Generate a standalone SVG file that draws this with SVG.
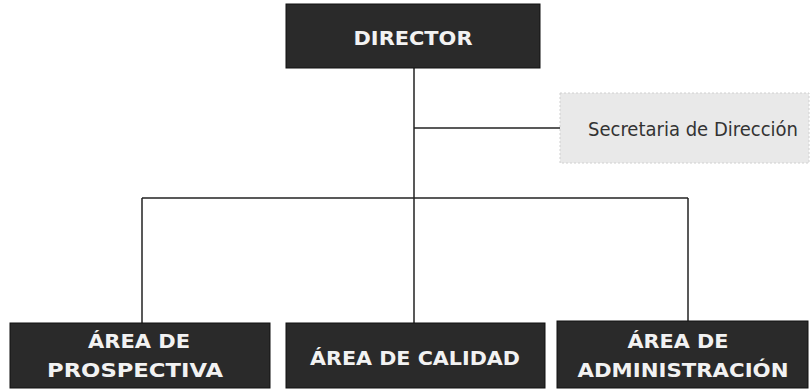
<svg xmlns="http://www.w3.org/2000/svg" width="810" height="390" viewBox="0 0 810 390">
<style>
.dark{fill:#2a2a2a;stroke:#111;stroke-width:1}
.light{fill:#e9e9e9;stroke:#d0d0d0;stroke-width:1;stroke-dasharray:2 2}
.lbl{font-family:"DejaVu Sans","Liberation Sans",sans-serif;font-weight:bold;font-size:19px;fill:#f2f2f2;text-anchor:middle}
.sec{font-family:"DejaVu Sans Condensed","Liberation Sans",sans-serif;font-size:19px;fill:#333;text-anchor:middle}
.conn{stroke:#222;stroke-width:1.5;fill:none}
</style>
<rect width="810" height="390" fill="#fff"/>
<g id="connectors">
<line class="conn" x1="414" y1="68" x2="414" y2="323"/>
<line class="conn" x1="414" y1="128" x2="560" y2="128"/>
<line class="conn" x1="142" y1="198" x2="688" y2="198"/>
<line class="conn" x1="142" y1="198" x2="142" y2="323"/>
<line class="conn" x1="688" y1="198" x2="688" y2="321"/>
</g>
<g id="director">
<rect class="dark" x="286" y="4" width="254" height="64"/>
<text class="lbl" x="413" y="45" textLength="119" lengthAdjust="spacingAndGlyphs">DIRECTOR</text>
</g>
<g id="secretaria">
<rect class="light" x="560" y="93" width="249" height="70"/>
<text class="sec" x="693" y="136" textLength="210" lengthAdjust="spacingAndGlyphs">Secretaria de Dirección</text>
</g>
<g id="prospectiva">
<rect class="dark" x="10" y="323" width="260" height="65"/>
<text class="lbl" x="139" y="348" textLength="102" lengthAdjust="spacingAndGlyphs">ÁREA DE</text>
<text class="lbl" x="135" y="377" textLength="176" lengthAdjust="spacingAndGlyphs">PROSPECTIVA</text>
</g>
<g id="calidad">
<rect class="dark" x="286" y="323" width="259" height="65"/>
<text class="lbl" x="415" y="365" textLength="210" lengthAdjust="spacingAndGlyphs">ÁREA DE CALIDAD</text>
</g>
<g id="administracion">
<rect class="dark" x="557" y="321" width="251" height="67"/>
<text class="lbl" x="678" y="348" textLength="101" lengthAdjust="spacingAndGlyphs">ÁREA DE</text>
<text class="lbl" x="683" y="377" textLength="211" lengthAdjust="spacingAndGlyphs">ADMINISTRACIÓN</text>
</g>
</svg>
